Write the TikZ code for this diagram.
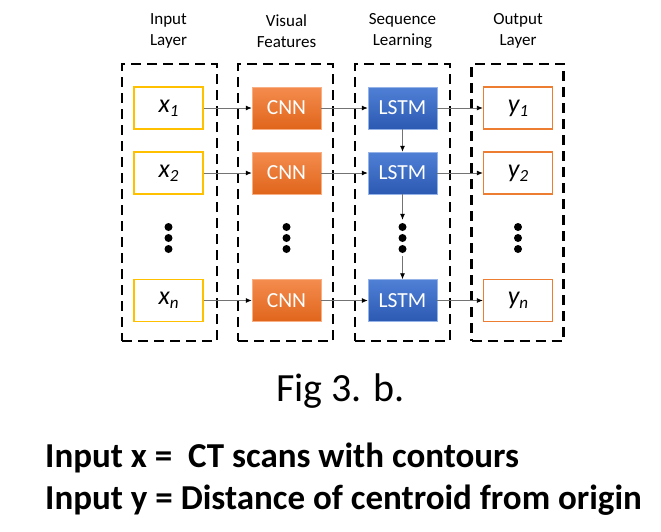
\documentclass[tikz,border=0pt]{standalone}
\usepackage{fontspec}
\setmainfont{Carlito}
\usetikzlibrary{arrows.meta, positioning}
\definecolor{inyellow}{HTML}{FFC000}
\definecolor{outorange}{HTML}{ED7D31}
\definecolor{cnntop}{HTML}{F48C4E}
\definecolor{cnnbot}{HTML}{E0651B}
\definecolor{lstmtop}{HTML}{4F80D6}
\definecolor{lstmbot}{HTML}{2C59B2}
\tikzset{
  layerbox/.style={draw=black, line width=2.6pt, dash pattern=on 10pt off 6pt},
  heading/.style={align=center, font=\fontsize{17}{21}\selectfont},
  inbox/.style={draw=inyellow, line width=1.3pt, fill=white, minimum width=69pt, minimum height=42pt, inner sep=0pt, font=\fontsize{26}{28}\selectfont\itshape},
  outbox/.style={inbox, draw=outorange},
  cnnbox/.style={top color=cnntop, bottom color=cnnbot, draw=cnntop!70!white, line width=0.5pt, minimum width=69pt, minimum height=42pt, inner sep=0pt, text=white, font=\fontsize{21.5}{23}\selectfont},
  lstmbox/.style={cnnbox, top color=lstmtop, bottom color=lstmbot, draw=lstmtop!60!white},
  flow/.style={draw=black!55, line width=0.8pt, -{Latex[length=6pt, width=5pt, black]}},
  vdots/.style={minimum width=8pt, minimum height=36pt, inner sep=0pt}
}
\newcommand{\sub}[1]{\raisebox{-0.35ex}{\fontsize{17}{17}\selectfont #1}}
\newcommand{\dotcol}[1]{%
  \fill (#1.center) circle (4pt);
  \fill ([yshift=11pt]#1.center) circle (4pt);
  \fill ([yshift=-11pt]#1.center) circle (4pt);}

\begin{document}
\begin{tikzpicture}[x=1pt, y=-1pt]
\useasboundingbox (0,0) rectangle (661,531);

% layers
\node[layerbox, minimum width=95pt, minimum height=277pt] (inlayer) at (169.5,202.5) {};
\node[layerbox, minimum width=95pt, minimum height=277pt] (cnnlayer) at (285.5,202.5) {};
\node[layerbox, minimum width=95pt, minimum height=277pt] (lstmlayer) at (402.5,202.5) {};
\node[layerbox, minimum width=92pt, minimum height=277pt] (outlayer) at (517.5,202.5) {};

\node[heading] (hin) at (168.5,31) {Input\\Layer};
\node[heading] (hcnn) at (286.5,31) {Visual\\Features};
\node[heading] (hlstm) at (402.5,31) {Sequence\\Learning};
\node[heading] (hout) at (518,31) {Output\\Layer};

% boxes
\node[inbox] (x1) at (168.5,108) {x\sub{1}};
\node[inbox] (x2) at (168.5,173) {x\sub{2}};
\node[inbox] (xn) at (168.5,300.5) {x\sub{n}};
\node[cnnbox] (c1) at (286.5,108) {CNN};
\node[cnnbox] (c2) at (286.5,173) {CNN};
\node[cnnbox] (cn) at (286.5,300.5) {CNN};
\node[lstmbox] (l1) at (402.5,108) {LSTM};
\node[lstmbox] (l2) at (402.5,173) {LSTM};
\node[lstmbox] (ln) at (402.5,300.5) {LSTM};
\node[outbox] (y1) at (518,108) {y\sub{1}};
\node[outbox] (y2) at (518,173) {y\sub{2}};
\node[outbox] (yn) at (518,300.5) {y\sub{n}};

\node[vdots] (xdots) at (168.5,238) {};
\node[vdots] (cdots) at (286.5,238) {};
\node[vdots] (ldots) at (402.5,238) {};
\node[vdots] (ydots) at (518,238) {};
\dotcol{xdots}
\dotcol{cdots}
\dotcol{ldots}
\dotcol{ydots}

% connectors
\draw[flow] (x1) -- (c1);
\draw[flow] (x2) -- (c2);
\draw[flow] (xn) -- (cn);
\draw[flow] (c1) -- (l1);
\draw[flow] (c2) -- (l2);
\draw[flow] (cn) -- (ln);
\draw[flow] (l1) -- (y1);
\draw[flow] (l2) -- (y2);
\draw[flow] (ln) -- (yn);
\draw[flow] (l1) -- (l2);
\draw[flow] (l2) -- (ldots);
\draw[flow] (ldots) -- (ln);

% captions
\node[font=\fontsize{40}{48}\selectfont] (fig) at (340.5,391) {Fig 3. b.};
\node[anchor=base west, inner sep=0pt, font=\fontsize{35}{40}\bfseries] (capx) at (45,467) {Input x =~ CT scans with contours};
\node[anchor=base west, inner sep=0pt, font=\fontsize{35}{40}\bfseries] (capy) at (45,509) {Input y = Distance of centroid from origin};
\end{tikzpicture}
\end{document}
